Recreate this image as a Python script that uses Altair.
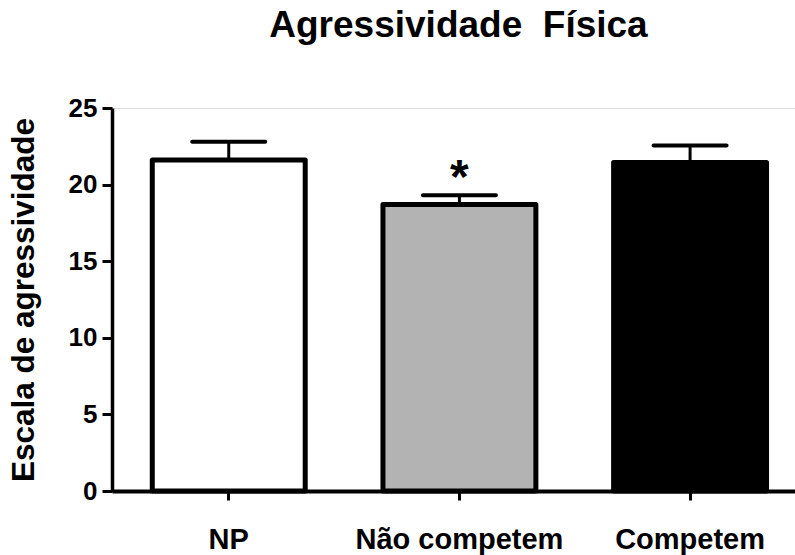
import altair as alt
import pandas as pd

# Group means and standard errors of the physical aggression scale
groups = ["NP", "Não competem", "Competem"]
means = [21.6, 18.7, 21.45]
sems = [1.2, 0.6, 1.1]
fills = ["#ffffff", "#b3b3b3", "#000000"]
signif = ["", "*", ""]

df = pd.DataFrame({
    "grupo": groups,
    "media": means,
    "sem": sems,
    "sig": signif,
})
df["superior"] = df["media"] + df["sem"]

FONT = "Liberation Sans"

x_enc = alt.X(
    "grupo:N",
    sort=groups,
    scale=alt.Scale(paddingInner=0.337, paddingOuter=0.149, align=0.586),
    axis=alt.Axis(
        title=None,
        labelAngle=0,
        labelFont=FONT,
        labelFontSize=29,
        labelFontWeight="bold",
        labelColor="black",
        labelPadding=25,
        labelLimit=0,
        domainColor="black",
        domainWidth=4,
        tickColor="black",
        tickWidth=3,
        tickSize=9,
    ),
)

y_scale = alt.Scale(domain=[0, 25], nice=False, zero=True)
y_axis = alt.Axis(
    values=[0, 5, 10, 15, 20, 25],
    title="Escala de agressividade",
    titleFont=FONT,
    titleFontSize=31.5,
    titleFontWeight="bold",
    titleColor="black",
    titlePadding=28,
    labelFont=FONT,
    labelFontSize=26,
    labelFontWeight="bold",
    labelColor="black",
    labelPadding=5,
    grid=False,
    domainColor="black",
    domainWidth=3.5,
    tickColor="black",
    tickWidth=3,
    tickSize=10,
)

base = alt.Chart(df)

# upper error stem
stems = base.mark_rule(color="black", strokeWidth=3, opacity=1).encode(
    x=x_enc,
    y=alt.Y("media:Q", scale=y_scale, axis=y_axis),
    y2="superior:Q",
)

bars = base.mark_bar(stroke="black", strokeWidth=5, strokeJoin="round", opacity=1).encode(
    x=x_enc,
    y=alt.Y("media:Q", scale=y_scale, axis=y_axis),
    fill=alt.Fill("grupo:N", scale=alt.Scale(domain=groups, range=fills), legend=None),
)

# error caps
caps = base.mark_tick(color="black", size=77, thickness=4, cornerRadius=2, opacity=1).encode(
    x=x_enc,
    y=alt.Y("superior:Q", scale=y_scale),
)

stars = base.mark_text(
    font=FONT, fontSize=48, fontWeight="bold", color="black",
    baseline="alphabetic", align="center", dy=-2,
).encode(
    x=x_enc,
    y=alt.Y("superior:Q", scale=y_scale),
    text="sig:N",
)

chart = (
    alt.layer(stems, bars, caps, stars)
    .properties(
        width=683,
        height=383,
        title=alt.Title(
            "Agressividade\u00a0 Física",
            font=FONT,
            fontSize=37,
            fontWeight="bold",
            color="black",
            anchor="middle",
            dx=5,
            offset=50,
        ),
        padding={"left": 112, "right": 0, "top": 108, "bottom": 64},
        autosize=alt.AutoSizeParams(type="none"),
    )
    .configure_view(strokeWidth=0)
    .configure(background="white")
)

chart.save("out.html", embed_options={"renderer": "svg", "actions": False})
